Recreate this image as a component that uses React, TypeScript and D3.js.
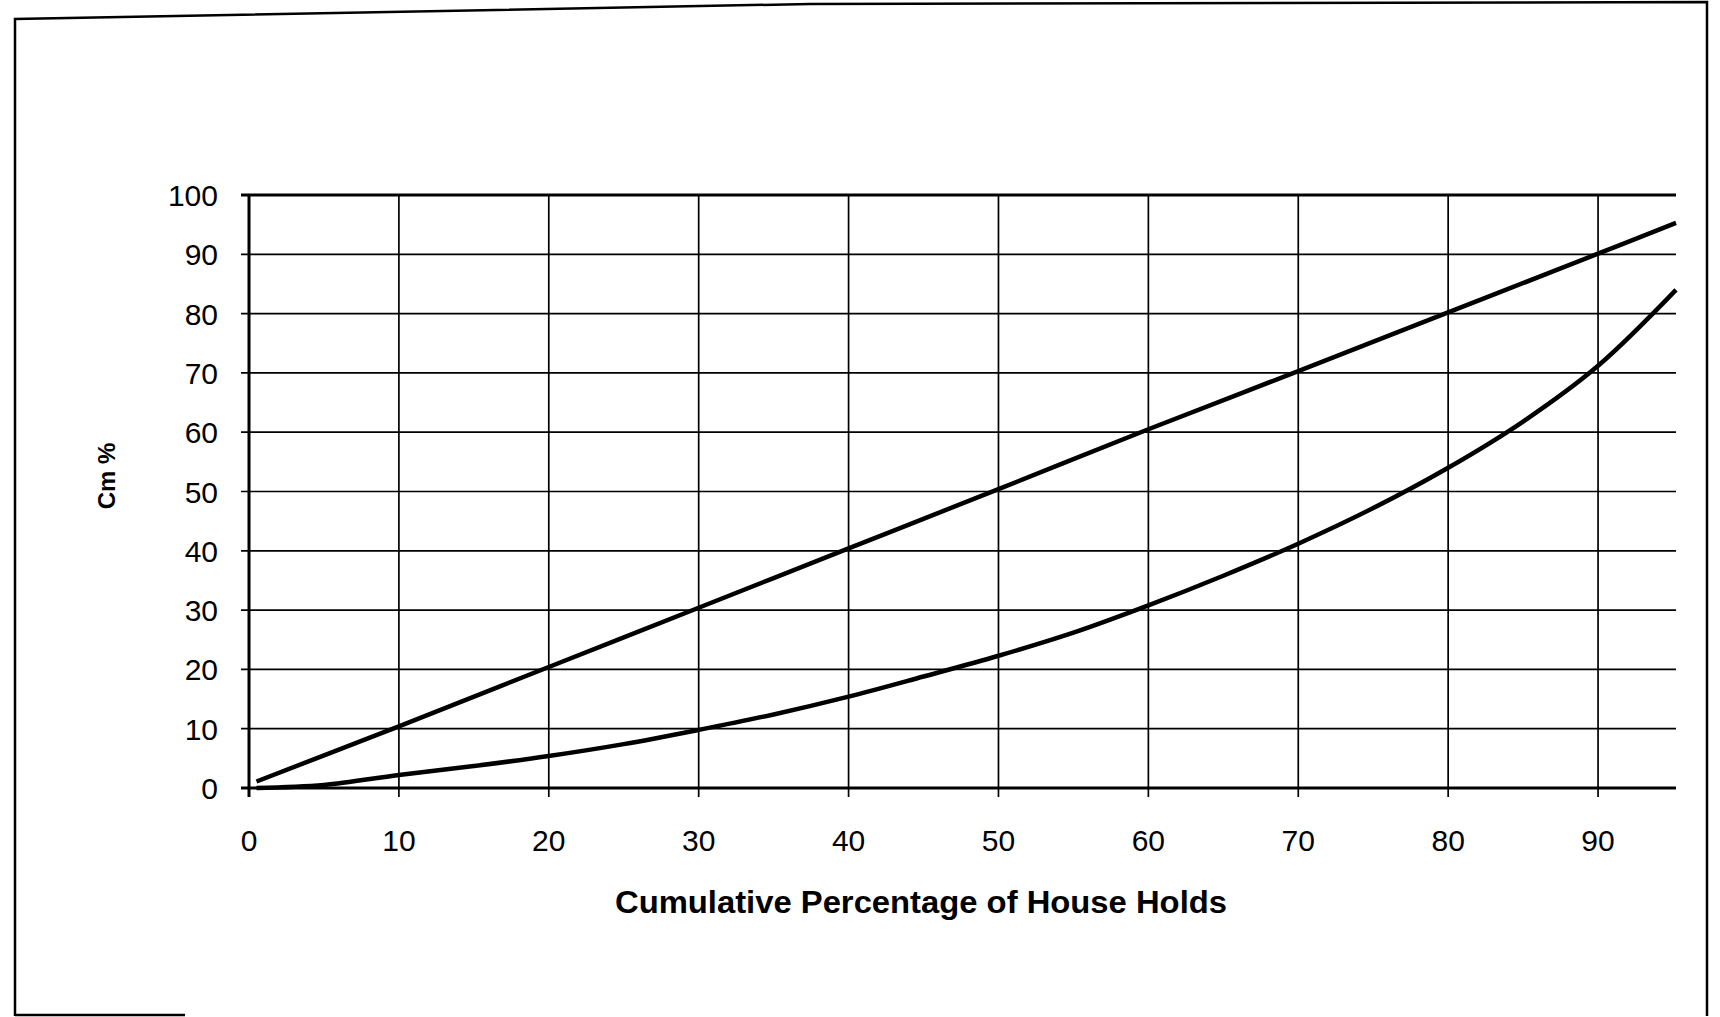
import React, { useEffect, useRef } from 'react'
import * as d3 from "d3";

// datos
const xTicks: number[] = [0, 10, 20, 30, 40, 50, 60, 70, 80, 90]
const yTicks: number[] = [0, 10, 20, 30, 40, 50, 60, 70, 80, 90, 100]
const igualdadX: number[] = [0.5, 10, 20, 30, 40, 50, 60, 70, 80, 90, 95.2]
const igualdadY: number[] = [1.1, 10.4, 20.4, 30.4, 40.4, 50.4, 60.5, 70.3, 80.2, 90.1, 95.3]
const lorenzX: number[] = [0.5, 5, 10, 15, 20, 25, 30, 35, 40, 45, 50, 55, 60, 65, 70, 75, 80, 85, 90, 95.2]
const lorenzY: number[] = [0, 0.5, 2.2, 3.7, 5.4, 7.4, 9.8, 12.4, 15.4, 18.8, 22.3, 26.2, 30.8, 35.8, 41.2, 47.2, 54.0, 61.8, 71.2, 84]
const xTitle = "Cumulative Percentage of House Holds"
const yTitle = "Cm %"

export default function App() {
  const svgRef = useRef<SVGSVGElement | null>(null);
  const width = 1720
  const height = 1017
  const fuente = "'Liberation Sans', Arial, sans-serif"

  useEffect(() => {
    const svg = d3.select(svgRef.current);
    svg.selectAll("*").remove();

    const xScale = d3.scaleLinear().domain([0, 95.2]).range([249, 1676]);
    const yScale = d3.scaleLinear().domain([0, 100]).range([788, 195]);

    svg.append("rect").attr("width", width).attr("height", height).attr("fill", "#fff");

    // marco exterior (escaneado, un poco torcido arriba)
    svg.append("path")
      .attr("d", "M15,1016 L15,19 L810,4 L1707,2 L1707,1016")
      .attr("fill", "none").attr("stroke", "#000").attr("stroke-width", 2.5);
    svg.append("line")
      .attr("x1", 15).attr("x2", 185).attr("y1", 1015).attr("y2", 1015)
      .attr("stroke", "#000").attr("stroke-width", 2.5);

    const g = svg.append("g");

    // rejilla horizontal
    g.selectAll("line.hgrid")
      .data(yTicks)
      .join("line")
      .attr("class", "hgrid")
      .attr("x1", xScale(0) - 8)
      .attr("x2", xScale(95.2))
      .attr("y1", d => yScale(d))
      .attr("y2", d => yScale(d))
      .attr("stroke", "#000")
      .attr("stroke-width", d => (d === 0 || d === 100) ? 3 : 1.7);

    // rejilla vertical
    g.selectAll("line.vgrid")
      .data(xTicks)
      .join("line")
      .attr("class", "vgrid")
      .attr("x1", d => xScale(d))
      .attr("x2", d => xScale(d))
      .attr("y1", yScale(100))
      .attr("y2", yScale(0) + 9)
      .attr("stroke", "#000")
      .attr("stroke-width", d => d === 0 ? 3 : 1.7);

    // etiquetas eje y
    g.selectAll("text.ylab")
      .data(yTicks)
      .join("text")
      .attr("class", "ylab")
      .attr("x", 218)
      .attr("y", d => yScale(d) + 11)
      .attr("text-anchor", "end")
      .attr("font-family", fuente)
      .attr("font-size", 30)
      .attr("fill", "#000")
      .text(d => d);

    // etiquetas eje x
    g.selectAll("text.xlab")
      .data(xTicks)
      .join("text")
      .attr("class", "xlab")
      .attr("x", d => xScale(d))
      .attr("y", 851)
      .attr("text-anchor", "middle")
      .attr("font-family", fuente)
      .attr("font-size", 30)
      .attr("fill", "#000")
      .text(d => d);

    const linea = d3.line<[number, number]>()
      .x(d => xScale(d[0]))
      .y(d => yScale(d[1]))
      .curve(d3.curveCatmullRom.alpha(0.5));

    const igualdad: [number, number][] = igualdadX.map((x, i) => [x, igualdadY[i]])
    const lorenz: [number, number][] = lorenzX.map((x, i) => [x, lorenzY[i]])

    g.append("path")
      .attr("d", linea(igualdad))
      .attr("fill", "none")
      .attr("stroke", "#000")
      .attr("stroke-width", 4.5);

    g.append("path")
      .attr("d", linea(lorenz))
      .attr("fill", "none")
      .attr("stroke", "#000")
      .attr("stroke-width", 4.5);

    // titulos
    svg.append("text")
      .attr("x", 921)
      .attr("y", 913)
      .attr("text-anchor", "middle")
      .attr("font-family", fuente)
      .attr("font-weight", "bold")
      .attr("font-size", 31)
      .attr("textLength", 612)
      .attr("lengthAdjust", "spacingAndGlyphs")
      .attr("fill", "#000")
      .text(xTitle);

    svg.append("text")
      .attr("transform", "translate(115, 476) rotate(-90)")
      .attr("text-anchor", "middle")
      .attr("font-family", fuente)
      .attr("font-weight", "bold")
      .attr("font-size", 24)
      .attr("fill", "#000")
      .text(yTitle);
  }, []);

  return (
    <svg ref={svgRef}
      width={width}
      height={height}
      style={{ position: "absolute", left: 0, top: 0, background: "#fff" }}
    />
  )
}
